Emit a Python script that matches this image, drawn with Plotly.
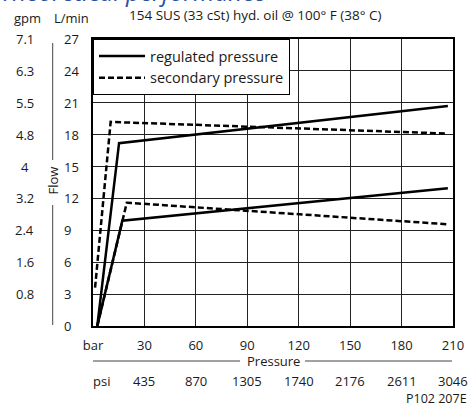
import plotly.graph_objects as go

# axis ticks / labels
bar_ticks = [0, 30, 60, 90, 120, 150, 180, 210]
bar_labels = ["bar", "30", "60", "90", "120", "150", "180", "210"]
psi_labels = ["psi", "435", "870", "1305", "1740", "2176", "2611", "3046"]
lmin_ticks = [0, 3, 6, 9, 12, 15, 18, 21, 24, 27]
lmin_labels = ["0", "3", "6", "9", "12", "15", "18", "21", "24", "27"]
gpm_ticks = [3, 6, 9, 12, 15, 18, 21, 24, 27]
gpm_labels = ["0.8", "1.6", "2.4", "3.2", "4", "4.8", "5.5", "6.3", "7.1"]

# curves (bar, L/min)
reg_hi_bar = [2.5, 15.2, 207]
reg_hi_flow = [0, 17.2, 20.7]
sec_hi_bar = [1.2, 10.3, 207]
sec_hi_flow = [3.6, 19.2, 18.1]
reg_lo_bar = [2.5, 17.1, 207]
reg_lo_flow = [0, 9.9, 12.95]
sec_lo_bar = [2.5, 19.7, 207]
sec_lo_flow = [0, 11.6, 9.57]

FONT = "Open Sans"
W, H = 471, 407
L, R, T, B = 93, 18, 39, 81
pw, ph = W - L - R, H - T - B


def px_x(px):
    return (px - L) / pw


def px_y(py):
    return (H - B - py) / ph


solid = dict(color="black", width=2.5)
dashed = dict(color="black", width=2.5, dash="6px,3px")

fig = go.Figure()
fig.add_trace(go.Scatter(x=reg_hi_bar, y=reg_hi_flow, mode="lines",
                         name="regulated pressure", line=solid, legendgroup="reg"))
fig.add_trace(go.Scatter(x=sec_hi_bar, y=sec_hi_flow, mode="lines",
                         name="secondary pressure", line=dashed, legendgroup="sec"))
fig.add_trace(go.Scatter(x=reg_lo_bar, y=reg_lo_flow, mode="lines",
                         line=solid, showlegend=False, legendgroup="reg"))
fig.add_trace(go.Scatter(x=sec_lo_bar, y=sec_lo_flow, mode="lines",
                         line=dashed, showlegend=False, legendgroup="sec"))


def note(x, y, text, xref="paper", yref="paper", xa="center", ya="middle", **kw):
    return dict(x=x, y=y, xref=xref, yref=yref, text=text, xanchor=xa,
                yanchor=ya, showarrow=False, **kw)


ann = []
# L/min and gpm columns
for v, t in zip(lmin_ticks, lmin_labels):
    ann.append(note(px_x(62), v, t, yref="y", xa="left"))
for v, t in zip(gpm_ticks, gpm_labels):
    ann.append(note(px_x(24.5), v, t, yref="y"))
# psi row
for v, t in zip(bar_ticks, psi_labels):
    ann.append(note(v, px_y(381), t, xref="x", xshift=8 if t == "psi" else 0))

ann += [
    note(px_x(27.5), px_y(18), "gpm"),
    note(px_x(71.5), px_y(18), "L/min"),
    note(px_x(255), px_y(15), "154 SUS (33 cSt) hyd. oil @ 100° F (38° C)",
         font=dict(size=13.5)),
    note(0.5, px_y(361), "Pressure"),
    note(px_x(52.5), px_y(181), "Flow", textangle=-90),
    note(px_x(469), px_y(398), "P102 207E", xa="right", font=dict(size=12.5)),
    # page title, mostly above the top edge as in the source
    note(px_x(-2), px_y(10), "<i>Theoretical performance</i>", xa="left", ya="bottom",
         font=dict(size=24.5, color="#2d4f9e")),
]

thin = dict(color="#444", width=1)
shapes = [
    dict(type="line", xref="paper", yref="paper", x0=px_x(93), x1=px_x(240),
         y0=px_y(361), y1=px_y(361), line=thin),
    dict(type="line", xref="paper", yref="paper", x0=px_x(305), x1=px_x(452),
         y0=px_y(361), y1=px_y(361), line=thin),
    dict(type="line", xref="paper", yref="paper", x0=px_x(52.7), x1=px_x(52.7),
         y0=px_y(43), y1=px_y(160), line=thin),
    dict(type="line", xref="paper", yref="paper", x0=px_x(52.7), x1=px_x(52.7),
         y0=px_y(205), y1=px_y(325), line=thin),
]

fig.update_layout(
    width=W, height=H,
    margin=dict(l=L, r=R, t=T, b=B, autoexpand=False),
    paper_bgcolor="white", plot_bgcolor="white",
    font=dict(family=FONT, size=13, color="#1a1a1a"),
    showlegend=True,
    legend=dict(x=0, y=1, xanchor="left", yanchor="top", bgcolor="white",
                bordercolor="black", borderwidth=1, font=dict(size=14.5),
                tracegroupgap=0, itemwidth=46),
    xaxis=dict(range=[0, 210], tickvals=bar_ticks, ticktext=bar_labels,
               showgrid=True, gridcolor="#222", gridwidth=1, zeroline=False,
               showline=True, linecolor="black", linewidth=2, mirror=True,
               ticks="", ticklabelstandoff=6),
    yaxis=dict(range=[0, 27], tickvals=lmin_ticks, showticklabels=False,
               showgrid=True, gridcolor="#222", gridwidth=1, zeroline=False,
               showline=True, linecolor="black", linewidth=2, mirror=True,
               ticks=""),
    annotations=ann,
    shapes=shapes,
)

# page body has a default 8px margin; drop it so the figure sits at 0,0
fig.write_html("out.html", config={"displayModeBar": False},
               post_script="document.body.style.margin='0';")
